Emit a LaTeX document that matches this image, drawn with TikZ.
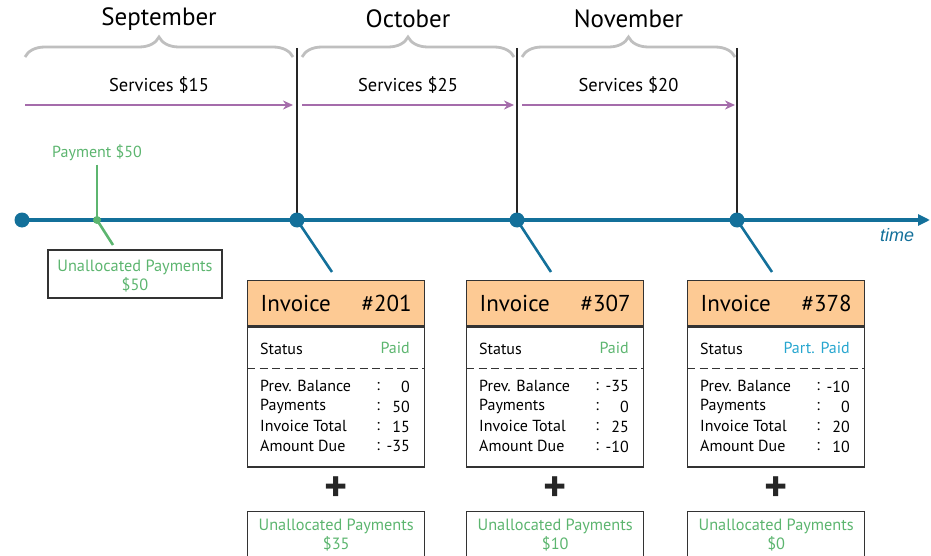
\documentclass[tikz,border=0pt]{standalone}
\usepackage{fontspec}
\setmainfont{PT Sans}
\newfontfamily\arialfont{Liberation Sans}
\usetikzlibrary{arrows.meta, positioning, calc, decorations.pathreplacing}
\definecolor{TimeBlue}{HTML}{13709A}
\definecolor{PayGreen}{HTML}{5CB56F}
\definecolor{PartBlue}{HTML}{27A6CF}
\definecolor{ServPurple}{HTML}{A56CAB}
\definecolor{BraceGray}{HTML}{BFBFBF}
\definecolor{HeadOrange}{HTML}{FDCA94}
\definecolor{BoxGray}{HTML}{333333}
\newcommand{\pxsize}[1]{\fontsize{#1}{#1}\selectfont}
\tikzset{
    % Timeline styles
    timeline/.style={
        draw=TimeBlue,
        line width=3.5pt,
        -{Triangle[length=12pt,width=11pt]}
    },
    tickdot/.style={
        circle,
        fill=TimeBlue,
        inner sep=0pt,
        minimum size=15pt
    },
    tickline/.style={
        draw=TimeBlue,
        line width=2.6pt
    },
    monthline/.style={
        draw=black!85,
        line width=2.4pt
    },
    monthbrace/.style={
        draw=BraceGray,
        line width=2.8pt,
        decorate,
        decoration={brace, amplitude=20pt}
    },
    monthlabel/.style={
        font=\pxsize{25}
    },
    % Service and payment styles
    servarrow/.style={
        draw=ServPurple,
        line width=2.4pt,
        -{Stealth[length=10pt,width=9pt]}
    },
    servlabel/.style={
        font=\pxsize{18.5}
    },
    paylabel/.style={
        font=\pxsize{16},
        text=PayGreen
    },
    payline/.style={
        draw=PayGreen,
        line width=2.6pt
    },
    paydot/.style={
        circle,
        fill=PayGreen,
        inner sep=0pt,
        minimum size=8pt
    },
    % Invoice styles
    invhead/.style={
        rectangle,
        draw=BoxGray,
        fill=HeadOrange,
        line width=1.4pt,
        minimum width=177pt,
        minimum height=45pt,
        text width=151pt,
        inner xsep=13pt,
        font=\pxsize{23}
    },
    invbody/.style={
        rectangle,
        draw=BoxGray,
        line width=1.4pt,
        minimum width=177pt,
        minimum height=140pt
    },
    rowtext/.style={
        font=\pxsize{16},
        inner sep=0pt
    },
    untext/.style={
        align=center,
        text=PayGreen,
        font=\fontsize{16.3}{19.5}\selectfont
    },
    unbox/.style={
        rectangle,
        draw=BoxGray,
        line width=1.4pt,
        minimum width=177pt,
        minimum height=47pt,
        untext
    },
    plussign/.style={
        font=\pxsize{44}\bfseries,
        text=black!85,
        inner sep=0pt
    }
}

\begin{document}
\begin{tikzpicture}[x=1pt, y=-1pt]
    \useasboundingbox (0,0) rectangle (931,556);

    % Months, braces and services
    \foreach \i/\a/\b/\mname/\amt in {1/25/293/September/15, 2/302/514/October/25, 3/522/735/November/20} {
        \draw[monthbrace] (\a,57) -- (\b,57);
        \node[monthlabel] (mn\i) at ({(\a+\b)/2},19) {\mname};
        \coordinate (sa\i) at (\a,105);
        \coordinate (sb\i) at (\b,105);
        \draw[servarrow] (sa\i) -- (sb\i);
        \node[servlabel] (sv\i) at ($(sa\i)!0.5!(sb\i)+(0,-20)$) {Services \$\amt};
    }

    % Month ends
    \coordinate (c0) at (22,220);
    \foreach \i/\x in {1/297, 2/517, 3/737} {
        \coordinate (c\i) at (\x,220);
        \coordinate (top\i) at (\x,48);
        \draw[monthline] (top\i) -- (c\i);
    }

    % Timeline
    \coordinate (tend) at (930,220);
    \draw[timeline] (c0) -- (tend);
    \node[font=\arialfont\itshape\pxsize{18}, text=TimeBlue] (time) at (897,235) {time};

    % Payment
    \coordinate (pc) at (97,220);
    \node[paylabel] (pay) at (97,153) {Payment \$50};
    \draw[payline] (pay) -- (pc);
    \coordinate (pe) at (113,245);
    \draw[payline] (pc) -- (pe);
    \node[paydot] (pd) at (pc) {};
    \node[unbox, minimum width=174pt, minimum height=48pt] (u0) at (135,274) {};
    \node[untext] (u0t) at ($(u0.center)+(0,2)$) {Unallocated Payments\\\$50};

    % Dots
    \foreach \i in {0,1,2,3} {
        \node[tickdot] (d\i) at (c\i) {};
    }

    % Invoices
    \foreach \i/\x/\num/\stat/\scol/\pb/\pay/\tot/\due/\un in {
        1/247/201/Paid/PayGreen/0/50/15/-35/35,
        2/466/307/Paid/PayGreen/-35/0/25/-10/10,
        3/687/378/Part. Paid/PartBlue/-10/0/20/10/0} {
        \node[invhead, anchor=north west] (h\i) at (\x,280) {Invoice\hfill\#\num};
        \node[invbody, anchor=north] (b\i) at (h\i.south) {};
        \coordinate (k\i) at ($(h\i.north west)+(85,-8)$);
        \draw[tickline] (d\i.center) -- (k\i);
        \node[rowtext, anchor=west] (st\i) at ($(h\i.south west)+(13,22)$) {Status};
        \node[rowtext, anchor=east, text=\scol] (sp\i) at ($(h\i.south west)+(163,22)$) {\stat};
        \draw[BoxGray, dashed, line width=1pt, dash pattern=on 8pt off 4.5pt] ($(b\i.north west)+(0,42)$) -- ($(b\i.north east)+(0,42)$);
        \foreach \j/\lab/\val in {1/Prev. Balance/\pb, 2/Payments/\pay, 3/Invoice Total/\tot, 4/Amount Due/\due} {
            \node[rowtext, anchor=west] (l\i\j) at ($(h\i.south west)+(13,40+20*\j)$) {\lab};
            \node[rowtext] (c\i\j) at ($(h\i.south west)+(131,40+20*\j)$) {:};
            \node[rowtext, anchor=east] (v\i\j) at ($(h\i.south west)+(163,40+20*\j)$) {\val};
        }
        \node[plussign] (p\i) at ($(b\i.south)+(0,21)$) {+};
        \node[unbox, anchor=north] (u\i) at ($(b\i.south)+(0,43)$) {Unallocated Payments\\\$\un};
    }
\end{tikzpicture}
\end{document}
